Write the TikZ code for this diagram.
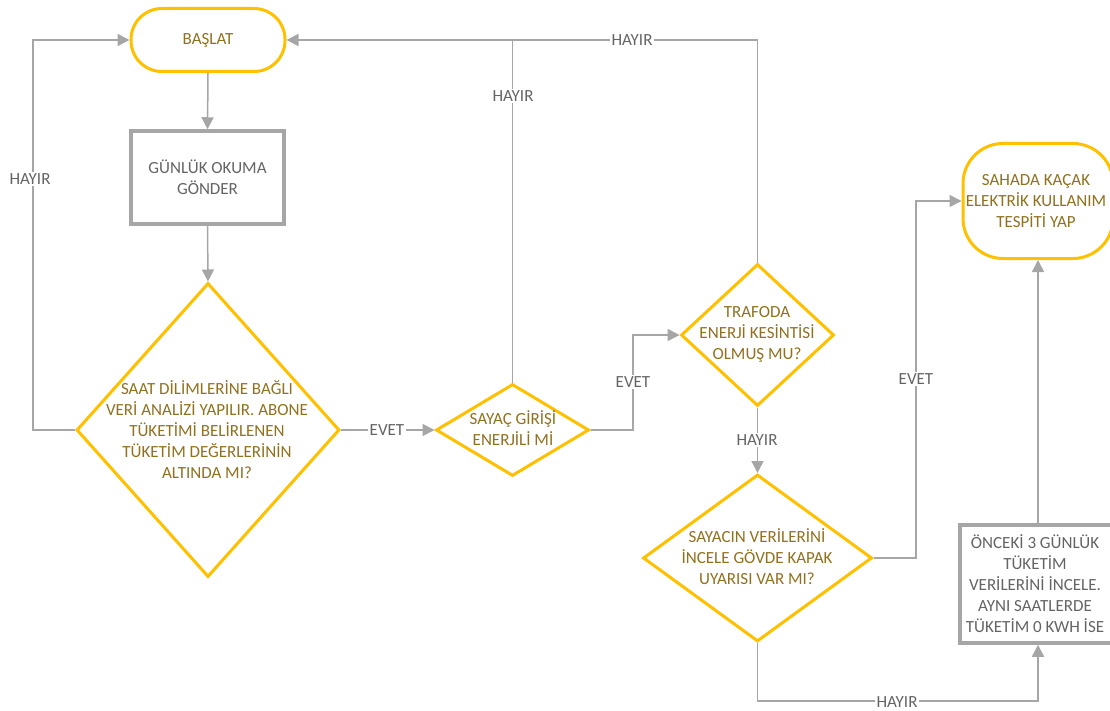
\documentclass[tikz,border=0pt]{standalone}
\usepackage{fontspec}
\setmainfont{Carlito}
\usetikzlibrary{shapes.geometric,arrows.meta}
\definecolor{ylw}{RGB}{255,192,0}
\definecolor{gold}{RGB}{143,113,30}
\definecolor{lgray}{RGB}{166,166,166}
\definecolor{tgray}{RGB}{100,100,100}
\tikzset{
  txt/.style={font=\fontsize{17}{21}\selectfont, align=center, inner sep=0pt},
  term/.style={draw=ylw, line width=3pt, rectangle, fill=white},
  proc/.style={draw=lgray, line width=3.5pt, rectangle, fill=white},
  dec/.style={draw=ylw, line width=3pt, diamond, inner sep=0pt, fill=white},
  ytxt/.style={txt, text=gold},
  gtxt/.style={txt, text=tgray},
  conn/.style={draw=lgray, line width=1.5pt, -{Triangle[length=12pt,width=12pt]}},
  link/.style={draw=lgray, line width=1.5pt},
  lab/.style={txt, text=tgray, fill=white, inner sep=1.5pt},
}
\begin{document}
\begin{tikzpicture}[x=1pt,y=-1pt]
\useasboundingbox (0,0) rectangle (1110,711);
\clip (0,0) rectangle (1110,711);
% nodes
\node[term, rounded corners=31pt, minimum width=154pt, minimum height=63pt] (start) at (208,40) {};
\node[ytxt] (startT) at (start) {BAŞLAT};
\node[proc, minimum width=153pt, minimum height=93pt] (read) at (207.5,177.5) {};
\node[gtxt] (readT) at (read) {GÜNLÜK OKUMA\\GÖNDER};
\node[dec, minimum width=263pt, minimum height=294pt] (d1) at (208,430) {};
\node[ytxt] (d1T) at (207,430) {SAAT DİLİMLERİNE BAĞLI\\VERİ ANALİZİ YAPILIR. ABONE\\TÜKETİMİ BELİRLENEN\\TÜKETİM DEĞERLERİNİN\\ALTINDA MI?};
\node[dec, minimum width=153pt, minimum height=92pt] (d2) at (512.5,430) {};
\node[ytxt] (d2T) at (513,428) {SAYAÇ GİRİŞİ\\ENERJİLİ Mİ};
\node[dec, minimum width=153pt, minimum height=142pt] (d3) at (757.5,335) {};
\node[ytxt] (d3T) at (757,334) {TRAFODA\\ENERJİ KESİNTİSİ\\OLMUŞ MU?};
\node[dec, minimum width=229pt, minimum height=167pt] (d4) at (757.5,558) {};
\node[ytxt] (d4T) at (757,557) {SAYACIN VERİLERİNİ\\İNCELE GÖVDE KAPAK\\UYARISI VAR MI?};
\node[term, rounded corners=40pt, minimum width=150pt, minimum height=115pt] (end) at (1038,201) {};
\node[ytxt] (endT) at (1036,201) {SAHADA KAÇAK\\ELEKTRİK KULLANIM\\TESPİTİ YAP};
\node[proc, minimum width=156pt, minimum height=118pt] (prev) at (1038,584) {};
\node[gtxt] (prevT) at (1035,584) {ÖNCEKİ 3 GÜNLÜK\\TÜKETİM\\VERİLERİNİ İNCELE.\\AYNI SAATLERDE\\TÜKETİM 0 KWH İSE};
% connectors
\coordinate (lx) at (33,0);
\coordinate (ex) at (633,0);
\coordinate (rx) at (916,0);
\coordinate (by) at (0,701);
\draw[conn] (start.south) -- (read.north);
\draw[conn] (read.south) -- (d1.north);
\draw[conn] (d1.west) -- (d1.west -| lx) -- (start.west -| lx) -- (start.west);
\draw[conn] (d1.east) -- (d2.west);
\draw[link] (d2.north) -- (d2.north |- start.east);
\draw[conn] (d3.north) -- (d3.north |- start.east) -- (start.east);
\draw[conn] (d2.east) -- (d2.east -| ex) -- (d3.west -| ex) -- (d3.west);
\draw[conn] (d3.south) -- (d4.north);
\draw[conn] (d4.east) -- (d4.east -| rx) -- (end.west -| rx) -- (end.west);
\draw[conn] (d4.south) -- (d4.south |- by) -- (prev.south |- by) -- (prev.south);
\draw[conn] (prev.north) -- (end.south);
% labels
\node[lab] (l1) at (30,179) {HAYIR};
\node[lab] (l2) at (513,96) {HAYIR};
\node[lab] (l3) at (632,40) {HAYIR};
\node[lab] (l4) at (387,430) {EVET};
\node[lab] (l5) at (633,382) {EVET};
\node[lab] (l6) at (757,440) {HAYIR};
\node[lab] (l7) at (916,379) {EVET};
\node[lab] (l8) at (897,702) {HAYIR};
\end{tikzpicture}
\end{document}
